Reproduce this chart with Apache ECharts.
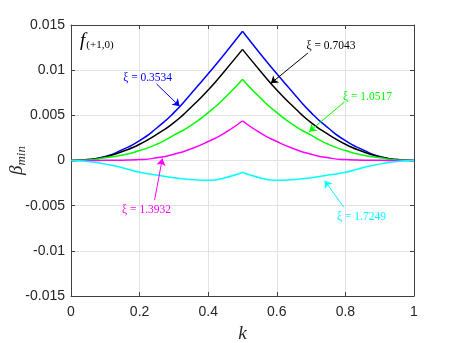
<!DOCTYPE html>
<html>
<head>
<meta charset="utf-8">
<script src="https://cdn.jsdelivr.net/npm/echarts@6/dist/echarts.min.js"></script>
<style>
html, body { margin: 0; padding: 0; background: #fff; }
#chart { width: 457px; height: 343px; }
</style>
</head>
<body>
<div id="chart"></div>
<script>
// k from 0 to 0.5, every curve is mirrored about k = 0.5
const kHalf = [0, 0.05, 0.1, 0.15, 0.2, 0.25, 0.3, 0.35, 0.4, 0.45, 0.5];
const betaXi03534 = [0, 0.0001, 0.00045, 0.0012, 0.0022, 0.0036, 0.0053, 0.0074, 0.0096, 0.0119, 0.0143];
const betaXi07043 = [0, 0.0001, 0.0004, 0.0010, 0.0018, 0.0029, 0.0042, 0.0059, 0.0078, 0.0100, 0.0123];
const betaXi10517 = [0, 0.00005, 0.0003, 0.0006, 0.0011, 0.0018, 0.0028, 0.0039, 0.0053, 0.0070, 0.0090];
const betaXi13932 = [0, 0, 0.00002, 0.00004, 0.0001, 0.0003, 0.0007, 0.0013, 0.0021, 0.0031, 0.0044];
const betaXi17249 = [0, -0.0001, -0.0004, -0.0008, -0.0013, -0.0016, -0.0019, -0.0021, -0.0022, -0.0019, -0.0013];

const xTicks = [0, 0.2, 0.4, 0.6, 0.8, 1];
const xTickLabels = ['0', '0.2', '0.4', '0.6', '0.8', '1'];
const yTicks = [-0.015, -0.01, -0.005, 0, 0.005, 0.01, 0.015];
const yTickLabels = ['-0.015', '-0.01', '-0.005', '0', '0.005', '0.01', '0.015'];

const curves = [
  { name: 'ξ = 0.3534', values: betaXi03534, color: '#0000ff' },
  { name: 'ξ = 0.7043', values: betaXi07043, color: '#000000' },
  { name: 'ξ = 1.0517', values: betaXi10517, color: '#00ff00' },
  { name: 'ξ = 1.3932', values: betaXi13932, color: '#ff00ff' },
  { name: 'ξ = 1.7249', values: betaXi17249, color: '#00ffff' }
];

// text annotations with arrows, in data coordinates [k, beta]
const notes = [
  { label: [0.2234, 0.0091], from: [0.2496, 0.00846], to: [0.3168, 0.0060] },
  { label: [0.7577, 0.01267], from: [0.6905, 0.01189], to: [0.5825, 0.00854] },
  { label: [0.8642, 0.00702], from: [0.7977, 0.0065], to: [0.6943, 0.00319] },
  { label: [0.2204, -0.00548], from: [0.2438, -0.00437], to: [0.2663, 0.00022] },
  { label: [0.8467, -0.00622], from: [0.7956, -0.00518], to: [0.7393, -0.00223] }
];

function pickLabel(ticks, labels, v) {
  let best = 0;
  ticks.forEach((t, i) => { if (Math.abs(t - v) < Math.abs(ticks[best] - v)) best = i; });
  return labels[best];
}

const serif = 'Liberation Serif';
const sans = 'Liberation Sans';
const axisColor = '#404040';

let series = [];
curves.forEach((c, idx) => {
  const n = notes[idx];
  let left = kHalf.map((k, i) => [k, c.values[i]]);
  let right = kHalf.map((k, i) => [1 - k, c.values[i]]).reverse();
  series.push({
    type: 'line', data: left, smooth: 0.6, showSymbol: false, silent: true,
    lineStyle: { color: c.color, width: 1.5 }, z: 3,
    markLine: {
      silent: true, animation: false,
      symbol: ['none', 'arrow'], symbolSize: 7,
      label: { show: false },
      lineStyle: { color: c.color, width: 1, type: 'solid' },
      data: [[{ coord: n.from }, { coord: n.to }]]
    },
    markPoint: {
      silent: true, animation: false,
      symbol: 'circle', symbolSize: 0,
      label: {
        show: true, position: 'inside', formatter: c.name,
        color: c.color, fontFamily: serif, fontSize: 11.5
      },
      data: [{ coord: n.label }]
    }
  });
  series.push({
    type: 'line', data: right, smooth: 0.6, showSymbol: false, silent: true,
    lineStyle: { color: c.color, width: 1.5 }, z: 3
  });
});

const chart = echarts.init(document.getElementById('chart'));
const option = {
  animation: false,
  backgroundColor: '#fff',
  title: {
    text: '{f|f}{s|(+1,0)}',
    left: 80, top: 31, padding: 0,
    textStyle: {
      rich: {
        f: { fontFamily: serif, fontStyle: 'italic', fontWeight: 'normal', fontSize: 19, lineHeight: 18, verticalAlign: 'top', color: '#000' },
        s: { fontFamily: serif, fontWeight: 'normal', fontSize: 11, lineHeight: 12, padding: [9, 0, 0, 1], verticalAlign: 'top', color: '#000' }
      }
    }
  },
  grid: { left: 71, right: 43, top: 25, bottom: 47, outerBoundsMode: 'none', containLabel: false },
  xAxis: [
    {
      type: 'value', min: xTicks[0], max: xTicks[xTicks.length - 1], interval: 0.2,
      name: 'k', nameLocation: 'middle', nameGap: 28, nameMoveOverlap: false,
      nameTextStyle: { fontFamily: serif, fontStyle: 'italic', fontSize: 19, color: '#262626' },
      axisLine: { show: true, onZero: false, lineStyle: { color: axisColor, width: 1 } },
      axisTick: { show: true, inside: true, length: 4, lineStyle: { color: axisColor } },
      axisLabel: {
        margin: 9, fontFamily: sans, fontSize: 14, color: '#262626',
        formatter: v => pickLabel(xTicks, xTickLabels, v)
      },
      splitLine: { show: true, lineStyle: { color: '#e3e3e3', width: 1 } }
    },
    {
      type: 'value', position: 'top', min: xTicks[0], max: xTicks[xTicks.length - 1], interval: 0.2,
      axisLine: { show: true, onZero: false, lineStyle: { color: axisColor, width: 1 } },
      axisTick: { show: true, inside: true, length: 4, lineStyle: { color: axisColor } },
      axisLabel: { show: false },
      splitLine: { show: false }
    }
  ],
  yAxis: [
    {
      type: 'value', min: yTicks[0], max: yTicks[yTicks.length - 1], interval: 0.005,
      name: '{b|β}{s|min}', nameLocation: 'middle', nameGap: 46, nameRotate: 90, nameMoveOverlap: false,
      nameTextStyle: {
        rich: {
          b: { fontFamily: serif, fontStyle: 'italic', fontSize: 19, lineHeight: 18, verticalAlign: 'top', color: '#262626' },
          s: { fontFamily: serif, fontStyle: 'italic', fontSize: 13, lineHeight: 13, padding: [8, 0, 0, 0], verticalAlign: 'top', color: '#262626' }
        }
      },
      axisLine: { show: true, onZero: false, lineStyle: { color: axisColor, width: 1 } },
      axisTick: { show: true, inside: true, length: 4, lineStyle: { color: axisColor } },
      axisLabel: {
        margin: 6, fontFamily: sans, fontSize: 14, color: '#262626',
        formatter: v => pickLabel(yTicks, yTickLabels, v)
      },
      splitLine: { show: true, lineStyle: { color: '#e3e3e3', width: 1 } }
    },
    {
      type: 'value', position: 'right', min: yTicks[0], max: yTicks[yTicks.length - 1], interval: 0.005,
      axisLine: { show: true, onZero: false, lineStyle: { color: axisColor, width: 1 } },
      axisTick: { show: true, inside: true, length: 4, lineStyle: { color: axisColor } },
      axisLabel: { show: false },
      splitLine: { show: false }
    }
  ],
  series: series
};
chart.setOption(option);
</script>
</body>
</html>
